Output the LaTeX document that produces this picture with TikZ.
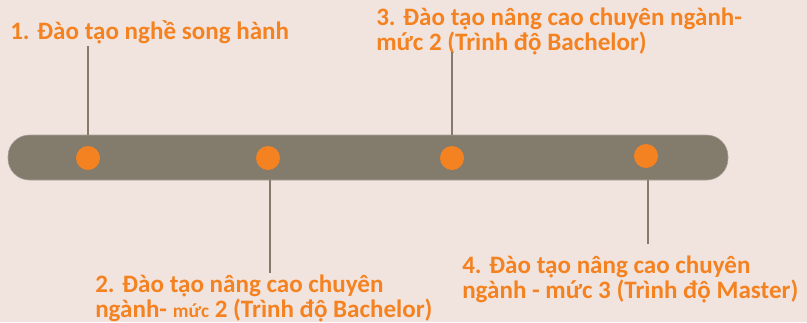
\documentclass[tikz,border=0pt]{standalone}
\usepackage{fontspec}
\setmainfont{Carlito}
\usetikzlibrary{positioning}
\definecolor{bgpink}{HTML}{F1E4DF}
\definecolor{bargrey}{HTML}{837C6D}
\definecolor{dotorange}{HTML}{F58220}

\begin{document}
\begin{tikzpicture}[
    x=0.75pt, y=-0.75pt,
    timebar/.style={rectangle, fill=bargrey, draw=bargrey!70, rounded corners=16pt, minimum width=540pt, minimum height=33.75pt, inner sep=0pt},
    dot/.style={circle, fill=dotorange, minimum size=18pt, inner sep=0pt},
    steptext/.style={anchor=base west, align=left, inner sep=0pt, text=dotorange, font=\fontsize{18.8pt}{18.4pt}\selectfont\bfseries},
    link/.style={draw=bargrey, line width=1.5pt}
]
\fill[bgpink] (0,0) rectangle (807,322);
\useasboundingbox (0,0) rectangle (807,322);

% Bar and dots
\node[timebar] (bar) at (368,157.5) {};
\node[dot] (dot1) at (88,158) {};
\node[dot] (dot2) at (268,158) {};
\node[dot] (dot3) at (452,158) {};
\node[dot] (dot4) at (646,156) {};

% Labels (anchored on the last line)
\node[steptext] (step1) at (10,39) {1. Đào tạo nghề song hành};
\node[steptext] (step2) at (95,317) {2. Đào tạo nâng cao chuyên\\ngành- {\fontsize{14.5pt}{18.4pt}\selectfont mức} 2 (Trình độ Bachelor)};
\node[steptext] (step3) at (376,50) {3. Đào tạo nâng cao chuyên ngành-\\mức 2 (Trình độ Bachelor)};
\node[steptext] (step4) at (462,298) {4. Đào tạo nâng cao chuyên\\ngành - mức 3 (Trình độ Master)};

% Connectors
\coordinate (tip1) at (88,46);
\coordinate (tip2) at (270,273);
\coordinate (tip3) at (452,52);
\coordinate (tip4) at (648,244);
\draw[link] (tip1) -- (tip1 |- bar.north);
\draw[link] (tip2) -- (tip2 |- bar.south);
\draw[link] (tip3) -- (tip3 |- bar.north);
\draw[link] (tip4) -- (tip4 |- bar.south);

\end{tikzpicture}
\end{document}
